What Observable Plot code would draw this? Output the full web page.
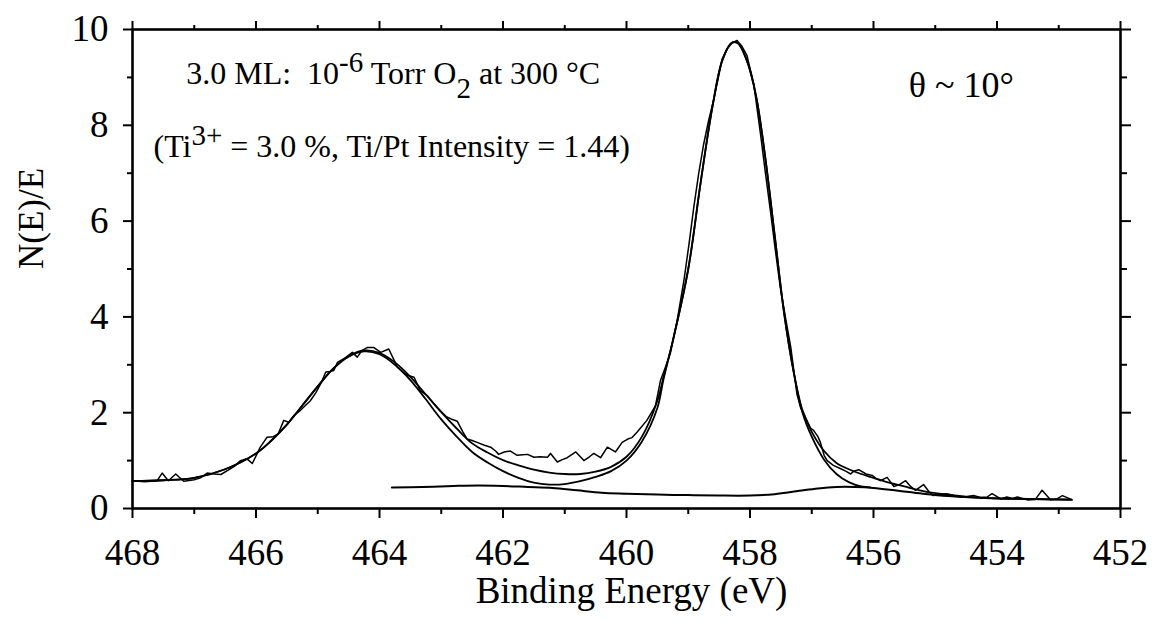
<!DOCTYPE html>
<html>
<head>
<meta charset="utf-8">
<script src="https://cdn.jsdelivr.net/npm/d3@7"></script>
<script src="https://cdn.jsdelivr.net/npm/@observablehq/plot@0.6"></script>
<style>
  html, body { margin: 0; padding: 0; background: #fff; font-family: "Liberation Serif", serif; }
  svg text { font-family: "Liberation Serif", serif; }
</style>
</head>
<body>
<div id="wrap" style="width:1154px;height:626px;font-family:'Liberation Serif',serif;"></div>
<script>
// ---- Tick values ----
const xMajor = [468, 466, 464, 462, 460, 458, 456, 454, 452];
const xMinor = [467, 465, 463, 461, 459, 457, 455, 453];
const yMajor = [0, 2, 4, 6, 8, 10];
const yMinor = [1, 3, 5, 7, 9];

// ---- Labels ----
const xLabel = "Binding Energy (eV)";
const yLabel = "N(E)/E";
const thetaLabel = "θ ~ 10°";
// annotation segments: [text, role]
const annot1 = [["3.0 ML:  10", "n"], ["-6", "sup"], [" Torr O", "n"], ["2", "sub"], [" at 300 °C", "n"]];
const annot2 = [["(Ti", "n"], ["3+", "sup"], [" = 3.0 %, Ti/Pt Intensity = 1.44)", "n"]];

// ---- Raw spectrum (binding energy eV, N(E)/E) ----
const rawData = [
  [468.0,0.58],[467.8,0.56],[467.6,0.58],[467.52,0.74],[467.42,0.58],[467.3,0.72],[467.17,0.57],
  [467.0,0.6],[466.9,0.64],[466.79,0.74],[466.68,0.72],[466.57,0.71],[466.45,0.8],[466.35,0.88],
  [466.25,1.0],[466.15,1.04],[466.06,0.94],[465.93,1.28],[465.82,1.49],[465.72,1.5],[465.64,1.56],
  [465.55,1.84],[465.47,1.8],[465.39,1.94],[465.28,2.05],[465.2,2.15],[465.12,2.25],[465.03,2.42],
  [464.95,2.61],[464.87,2.85],[464.8,2.86],[464.74,2.88],[464.68,3.05],[464.55,3.15],[464.44,3.26],
  [464.36,3.16],[464.28,3.3],[464.2,3.36],[464.09,3.36],[463.98,3.26],[463.85,3.33],[463.71,2.95],
  [463.62,2.85],[463.55,2.78],[463.44,2.74],[463.34,2.46],[463.22,2.35],[463.12,2.19],[463.0,2.02],
  [462.91,1.91],[462.84,1.87],[462.74,1.82],[462.65,1.6],[462.58,1.45],[462.5,1.42],[462.42,1.38],
  [462.3,1.32],[462.2,1.28],[462.12,1.2],[462.07,1.13],[461.98,1.18],[461.88,1.2],[461.77,1.11],
  [461.68,1.12],[461.6,1.13],[461.5,1.07],[461.4,1.08],[461.28,1.07],[461.23,1.15],[461.12,0.97],
  [461.04,1.02],[460.96,1.06],[460.82,1.18],[460.69,1.0],[460.6,1.08],[460.53,1.15],[460.42,1.06],
  [460.31,1.28],[460.18,1.18],[460.07,1.38],[459.98,1.45],[459.91,1.48],[459.83,1.59],[459.67,1.84],
  [459.53,2.15],[459.45,2.67],[459.37,2.95],[459.29,3.24],[459.18,3.92],[459.07,4.76],[458.99,5.5],
  [458.91,6.29],[458.83,7.0],[458.75,7.61],[458.67,8.1],[458.59,8.52],[458.52,8.95],[458.45,9.39],
  [458.37,9.6],[458.29,9.72],[458.21,9.77],[458.13,9.65],[458.05,9.46],[457.94,8.87],[457.83,7.82],
  [457.75,7.0],[457.67,6.22],[457.59,5.4],[457.51,4.62],[457.42,3.95],[457.34,3.37],[457.24,2.39],
  [457.18,2.1],[457.13,1.98],[457.02,1.68],[456.97,1.63],[456.9,1.5],[456.86,1.38],[456.8,1.11],
  [456.75,1.0],[456.65,0.9],[456.53,0.83],[456.45,0.78],[456.37,0.72],[456.32,0.78],[456.24,0.81],
  [456.12,0.72],[456.02,0.69],[455.96,0.63],[455.89,0.58],[455.78,0.65],[455.67,0.46],[455.58,0.5],
  [455.48,0.58],[455.4,0.46],[455.32,0.38],[455.19,0.5],[455.1,0.35],[455.03,0.27],[454.92,0.3],
  [454.81,0.31],[454.7,0.27],[454.59,0.24],[454.48,0.25],[454.38,0.27],[454.27,0.23],[454.16,0.24],
  [454.08,0.31],[453.94,0.2],[453.84,0.24],[453.75,0.21],[453.67,0.24],[453.51,0.18],[453.38,0.19],
  [453.27,0.38],[453.13,0.18],[453.03,0.2],[452.94,0.27],[452.78,0.18]
];

// ---- Total fit (smooth) ----
const fitTotal = [
  [468.0,0.57],[467.5,0.59],[467.0,0.64],[466.5,0.82],[466.0,1.15],[465.75,1.42],[465.5,1.75],
  [465.25,2.15],[465.0,2.55],[464.75,2.92],[464.5,3.18],[464.25,3.3],[464.0,3.25],[463.75,3.05],
  [463.5,2.75],[463.25,2.38],[463.0,2.01],[462.75,1.67],[462.5,1.36],[462.25,1.17],[462.0,1.01],
  [461.75,0.9],[461.5,0.81],[461.25,0.75],[461.0,0.72],[460.75,0.72],[460.5,0.77],[460.25,0.87],
  [460.0,1.08],[459.75,1.5],[459.5,2.25],[459.4,2.75],[459.25,3.5],[459.0,5.0],[458.8,6.8],
  [458.6,8.45],[458.45,9.35],[458.3,9.72],[458.2,9.72],[458.05,9.35],[457.9,8.6],[457.75,7.3],
  [457.6,5.7],[457.45,4.1],[457.3,2.9],[457.15,2.05],[457.0,1.6],[456.8,1.2],[456.6,0.95],
  [456.4,0.82],[456.2,0.72],[456.0,0.64],[455.75,0.54],[455.5,0.46],[455.25,0.38],[455.0,0.32],
  [454.5,0.25],[454.0,0.21],[453.5,0.2],[452.8,0.18]
];

// ---- Ti4+ component (smooth, lower) ----
const fitComponent = [
  [468.0,0.57],[467.5,0.59],[467.0,0.64],[466.5,0.82],[466.0,1.15],[465.75,1.42],[465.5,1.75],
  [465.25,2.15],[465.0,2.55],[464.75,2.92],[464.5,3.17],[464.25,3.28],[464.0,3.22],[463.75,3.0],
  [463.5,2.68],[463.25,2.28],[463.0,1.86],[462.75,1.5],[462.5,1.18],[462.25,0.96],[462.0,0.78],
  [461.75,0.64],[461.5,0.54],[461.25,0.5],[461.0,0.51],[460.75,0.57],[460.5,0.66],[460.25,0.78],
  [460.0,1.0],[459.75,1.4],[459.5,2.1],[459.4,2.7],[459.25,3.5],[459.0,5.0],[458.8,6.8],
  [458.6,8.45],[458.45,9.35],[458.3,9.72],[458.2,9.72],[458.05,9.35],[457.9,8.6],[457.75,7.3],
  [457.6,5.7],[457.45,4.1],[457.3,2.9],[457.15,2.0],[457.0,1.5],[456.8,1.02],[456.6,0.72],
  [456.4,0.55],[456.2,0.46],[456.05,0.44]
];

// ---- Background / Ti3+ baseline ----
const baseline = [
  [463.8,0.44],[463.3,0.45],[462.8,0.47],[462.4,0.48],[462.0,0.47],[461.6,0.45],[461.2,0.43],
  [460.8,0.38],[460.4,0.33],[460.0,0.31],[459.5,0.29],[459.0,0.28],[458.5,0.27],[458.0,0.27],
  [457.6,0.3],[457.2,0.37],[456.9,0.42],[456.6,0.45],[456.3,0.45],[456.0,0.43],[455.6,0.37],
  [455.2,0.31],[454.8,0.26],[454.4,0.23],[454.0,0.21],[453.5,0.2],[452.8,0.19]
];

const serif = "Liberation Serif";
const X = d => d[0], Y = d => d[1];
const annot1Text = annot1.map(s => s[0]).join("");
const annot2Text = annot2.map(s => s[0]).join("");

const chart = Plot.plot({
  width: 1154,
  height: 626,
  marginLeft: 132,
  marginRight: 34,
  marginTop: 29,
  marginBottom: 118,
  x: {domain: [468, 452]},
  y: {domain: [0, 10]},
  style: "font-family: 'Liberation Serif', serif; font-size: 36px; color: black; background: white;",
  marks: [
    // curves
    Plot.line(baseline, {x: X, y: Y, stroke: "black", strokeWidth: 2, curve: "catmull-rom"}),
    Plot.line(fitComponent, {x: X, y: Y, stroke: "black", strokeWidth: 1.8, curve: "catmull-rom"}),
    Plot.line(fitTotal, {x: X, y: Y, stroke: "black", strokeWidth: 1.8, curve: "catmull-rom"}),
    Plot.line(rawData, {x: X, y: Y, stroke: "black", strokeWidth: 1.5}),
    // frame + axes
    Plot.frame({stroke: "black", strokeWidth: 2.6}),
    Plot.axisX({anchor: "bottom", ticks: xMajor, tickSize: 10, tickPadding: 20, strokeWidth: 2, label: null, fontSize: 37, fontFamily: serif}),
    Plot.axisX({anchor: "bottom", ticks: xMinor, tickSize: 6, tickFormat: () => "", strokeWidth: 2, label: null}),
    Plot.axisX({anchor: "top", ticks: xMajor, tickSize: 9, tickFormat: () => "", strokeWidth: 2, label: null}),
    Plot.axisX({anchor: "top", ticks: xMinor, tickSize: 5, tickFormat: () => "", strokeWidth: 2, label: null}),
    Plot.axisY({anchor: "left", ticks: yMajor, tickSize: 9, tickPadding: 15, strokeWidth: 2, label: null, fontSize: 37, fontFamily: serif}),
    Plot.axisY({anchor: "left", ticks: yMinor, tickSize: 5, tickFormat: () => "", strokeWidth: 2, label: null}),
    Plot.axisY({anchor: "right", ticks: yMajor, tickSize: 10, tickFormat: () => "", strokeWidth: 2, label: null}),
    Plot.axisY({anchor: "right", ticks: yMinor, tickSize: 6, tickFormat: () => "", strokeWidth: 2, label: null}),
    // axis titles
    Plot.text([xLabel], {frameAnchor: "bottom", text: d => d, dx: 5, dy: 94, fontSize: 37, fontFamily: serif, fill: "black"}),
    Plot.text([yLabel], {frameAnchor: "left", text: d => d, rotate: -90, dx: -101, fontSize: 35, fontFamily: serif, fill: "black"}),
    // annotations
    Plot.text([annot1Text], {x: 467.13, y: 8.87, text: d => d, textAnchor: "start", lineAnchor: "bottom", fontSize: 32, fontFamily: serif, fill: "black"}),
    Plot.text([annot2Text], {x: 467.66, y: 7.33, text: d => d, textAnchor: "start", lineAnchor: "bottom", fontSize: 32, fontFamily: serif, fill: "black"}),
    Plot.text([thetaLabel], {x: 455.43, y: 8.6, text: d => d, textAnchor: "start", lineAnchor: "bottom", fontSize: 36, fontFamily: serif, fill: "black"})
  ]
});

// Rebuild annotation text with superscript / subscript tspans
function rich(full, segs, shiftUp, shiftDown, scale) {
  const t = d3.select(chart).selectAll("text").filter(function() { return this.textContent === full; });
  if (t.empty()) return;
  t.text(null);
  let cur = 0;
  for (const [s, role] of segs) {
    let target = 0;
    if (role === "sup") target = -shiftUp;
    if (role === "sub") target = shiftDown;
    const ts = t.append("tspan").attr("dy", target - cur).text(s);
    if (role !== "n") ts.attr("font-size", scale);
    cur = target;
  }
}
rich(annot1Text, annot1, 12, 14, "29px");
rich(annot2Text, annot2, 12, 14, "29px");

// force the serif face on every text node (inline style + attribute)
chart.setAttribute("font-family", "Liberation Serif, serif");
chart.querySelectorAll("g").forEach(g => { if (g.hasAttribute("font-family")) g.setAttribute("font-family", "Liberation Serif, serif"); });
chart.querySelectorAll("text, tspan").forEach(t => {
  t.setAttribute("font-family", "Liberation Serif, serif");
  t.style.fontFamily = "'Liberation Serif', serif";
});

document.getElementById("wrap").appendChild(chart);
</script>
</body>
</html>
